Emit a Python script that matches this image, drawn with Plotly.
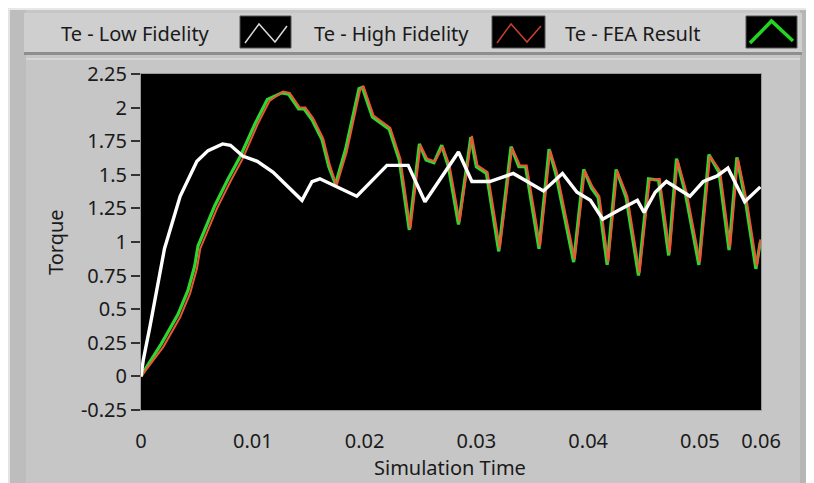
import plotly.graph_objects as go

# ---------------- data ----------------
series_names = ["Te - Low Fidelity", "Te - High Fidelity", "Te - FEA Result"]

t_low = [0, 0.0002, 0.0008, 0.0015, 0.0021, 0.0035, 0.0050, 0.0060, 0.0073, 0.0080,
         0.0091, 0.0104, 0.0118, 0.0144, 0.0153, 0.0160, 0.0175, 0.0193, 0.0220, 0.0239,
         0.0254, 0.0284, 0.0296, 0.0312, 0.0333, 0.0360, 0.0377, 0.0390, 0.0402, 0.0413,
         0.0426, 0.0444, 0.0450, 0.0460, 0.0470, 0.0491, 0.0503, 0.0515, 0.0525, 0.0540, 0.0554]
te_low = [0, 0.12, 0.37, 0.70, 0.95, 1.34, 1.60, 1.68, 1.73, 1.72,
          1.64, 1.60, 1.52, 1.31, 1.45, 1.47, 1.41, 1.34, 1.57, 1.57,
          1.30, 1.67, 1.45, 1.45, 1.51, 1.38, 1.51, 1.37, 1.31, 1.17,
          1.23, 1.31, 1.22, 1.37, 1.45, 1.34, 1.45, 1.49, 1.55, 1.30, 1.41]

t_high = [0, 0.0002, 0.0020, 0.0035, 0.0044, 0.0050, 0.0053, 0.0068, 0.0080, 0.0091,
          0.0104, 0.0115, 0.0127, 0.0133, 0.0142, 0.0147, 0.0154, 0.0163, 0.0169, 0.0175,
          0.0184, 0.0196, 0.0199, 0.0208, 0.0223, 0.0232, 0.0241, 0.0250, 0.0256, 0.0263,
          0.0270, 0.0276, 0.0285, 0.0296, 0.0301, 0.0310, 0.0321, 0.0332, 0.0339, 0.0345,
          0.0357, 0.0366, 0.0372, 0.0388, 0.0397, 0.0404, 0.0410, 0.0418, 0.0426, 0.0435,
          0.0446, 0.0455, 0.0464, 0.0473, 0.0480, 0.0488, 0.0500, 0.0509, 0.0518, 0.0527,
          0.0534, 0.0542, 0.0551, 0.0554]
te_high = [0, 0.02, 0.22, 0.44, 0.62, 0.80, 0.95, 1.25, 1.45, 1.62,
           1.87, 2.05, 2.12, 2.11, 2.00, 2.00, 1.92, 1.77, 1.57, 1.42,
           1.67, 2.13, 2.16, 1.94, 1.85, 1.62, 1.10, 1.72, 1.62, 1.60,
           1.71, 1.57, 1.15, 1.79, 1.57, 1.52, 0.95, 1.70, 1.57, 1.57,
           0.97, 1.68, 1.52, 0.87, 1.53, 1.41, 1.34, 0.85, 1.53, 1.34,
           0.77, 1.46, 1.47, 0.92, 1.61, 1.37, 0.85, 1.64, 1.53, 0.96,
           1.62, 1.30, 0.82, 1.02]

t_fea = [0, 0.0002, 0.0018, 0.0033, 0.0042, 0.0048, 0.0051, 0.0066, 0.0078, 0.0089,
         0.0102, 0.0113, 0.0126, 0.0132, 0.0141, 0.0146, 0.0153, 0.0162, 0.0168, 0.0174,
         0.0183, 0.0195, 0.0198, 0.0207, 0.0222, 0.0231, 0.0240, 0.0249, 0.0255, 0.0262,
         0.0269, 0.0275, 0.0284, 0.0295, 0.0300, 0.0309, 0.0320, 0.0331, 0.0338, 0.0344,
         0.0356, 0.0365, 0.0371, 0.0387, 0.0396, 0.0403, 0.0409, 0.0417, 0.0425, 0.0434,
         0.0445, 0.0454, 0.0463, 0.0472, 0.0479, 0.0487, 0.0499, 0.0508, 0.0517, 0.0526,
         0.0533, 0.0541, 0.0550, 0.0554]
te_fea = [0, 0.03, 0.24, 0.46, 0.64, 0.82, 0.97, 1.27, 1.47, 1.64,
          1.88, 2.06, 2.11, 2.10, 1.99, 1.99, 1.91, 1.76, 1.56, 1.43,
          1.69, 2.14, 2.15, 1.93, 1.84, 1.61, 1.09, 1.73, 1.61, 1.59,
          1.72, 1.56, 1.13, 1.78, 1.56, 1.51, 0.93, 1.71, 1.56, 1.56,
          0.95, 1.69, 1.51, 0.85, 1.54, 1.40, 1.33, 0.83, 1.54, 1.33,
          0.75, 1.47, 1.46, 0.90, 1.62, 1.36, 0.83, 1.65, 1.52, 0.94,
          1.63, 1.29, 0.80, 1.00]

x_tickvals = [0, 0.01, 0.02, 0.03, 0.04, 0.05, 0.05546]
x_ticktext = ["0", "0.01", "0.02", "0.03", "0.04", "0.05", "0.06"]
y_tickvals = [-0.25, 0, 0.25, 0.5, 0.75, 1, 1.25, 1.5, 1.75, 2, 2.25]
y_ticktext = ["-0.25", "0", "0.25", "0.5", "0.75", "1", "1.25", "1.5", "1.75", "2", "2.25"]

x_title = "Simulation Time"
y_title = "Torque"

# ---------------- layout geometry ----------------
# reference pixel coords; the page body has an 8px margin, so the figure is offset by O
O = 8
W, H = 814, 483
FW, FH = W - O, H - O
L, R, T, B = 141, 761, 74, 410
FONT = "Noto Sans"
FS = 20
TXT = "#1a1a1a"


def px(x):
    return (x - L) / (R - L)


def py(y):
    return (B - y) / (B - T)


fig = go.Figure()

fig.add_trace(go.Scatter(x=t_fea, y=te_fea, mode="lines", name=series_names[2],
                         line=dict(color="#2fd62f", width=3.2), showlegend=False))
fig.add_trace(go.Scatter(x=t_high, y=te_high, mode="lines", name=series_names[1],
                         line=dict(color="#ee5438", width=2), showlegend=False))
fig.add_trace(go.Scatter(x=t_low, y=te_low, mode="lines", name=series_names[0],
                         line=dict(color="#ffffff", width=3.4), showlegend=False))

shapes = []


def rect(x0, y0, x1, y1, color):
    shapes.append(dict(type="rect", xref="paper", yref="paper",
                       x0=px(x0), x1=px(x1), y0=py(y1), y1=py(y0),
                       fillcolor=color, line=dict(width=0), layer="below"))


# frame decoration (figure starts at reference pixel 8,8)
rect(8, 8, 10, H, "#e4e4e4")
rect(8, 8, W, 10, "#e8e8e8")
rect(10, 10, 26, H, "#bdbdbd")
rect(800, 10, W, H, "#b6b6b6")
rect(24, 13, 802, 53, "#cfcfcf")
rect(24, 52, 802, 55, "#8e8e8e")
rect(26, 58, 800, 60, "#d6d6d6")

annotations = []
legend_text_x = [135, 391, 632]
swatches = [(240, 291), (492, 545), (746, 797)]
sw_colors = ["#d8d8d8", "#c8402e", "#22d622"]
sw_widths = [1.5, 1.5, 3.5]
for i, name in enumerate(series_names):
    annotations.append(dict(text=name, x=px(legend_text_x[i]), y=py(33), xref="paper", yref="paper",
                            showarrow=False, xanchor="center", yanchor="middle",
                            font=dict(family=FONT, size=FS, color=TXT)))
    x0, x1 = swatches[i]
    shapes.append(dict(type="rect", xref="paper", yref="paper",
                       x0=px(x0), x1=px(x1), y0=py(48), y1=py(16),
                       fillcolor="#000000", line=dict(color="#555555", width=1)))
    if i < 2:
        pts = [(x0 + 5, 43), (x0 + 19, 24), (x0 + 35, 42), (x1 - 4, 26)]
    else:
        pts = [(x0 + 4, 43), (x0 + (x1 - x0) / 2, 21), (x1 - 4, 41)]
    path = "M " + " L ".join(f"{px(a):.5f},{py(b):.5f}" for a, b in pts)
    shapes.append(dict(type="path", xref="paper", yref="paper", path=path,
                       line=dict(color=sw_colors[i], width=sw_widths[i])))

annotations.append(dict(text=y_title, x=px(55), y=py(242), xref="paper", yref="paper",
                        showarrow=False, textangle=-90, xanchor="center", yanchor="middle",
                        font=dict(family=FONT, size=FS, color=TXT)))
annotations.append(dict(text=x_title, x=px(450), y=py(467), xref="paper", yref="paper",
                        showarrow=False, xanchor="center", yanchor="middle",
                        font=dict(family=FONT, size=FS, color=TXT)))

fig.update_layout(
    width=FW, height=FH,
    margin=dict(l=L - O, r=W - R, t=T - O, b=H - B, pad=0),
    paper_bgcolor="#c6c6c6",
    plot_bgcolor="#000000",
    showlegend=False,
    shapes=shapes,
    annotations=annotations,
    xaxis=dict(range=[0, 0.05546], tickvals=x_tickvals, ticktext=x_ticktext,
               showgrid=False, zeroline=False, ticks="outside", ticklen=13,
               tickcolor="rgba(0,0,0,0)", showline=True, linecolor="#9a9a9a", linewidth=1,
               mirror=True, tickfont=dict(family=FONT, size=FS, color=TXT), fixedrange=True),
    yaxis=dict(range=[-0.25, 2.25], tickvals=y_tickvals, ticktext=y_ticktext,
               showgrid=False, zeroline=False, ticks="outside", ticklen=9, tickwidth=2,
               tickcolor="#333333", showline=True, linecolor="#9a9a9a", linewidth=1, mirror=True,
               tickfont=dict(family=FONT, size=FS, color=TXT), fixedrange=True),
)

fig.write_html("out.html", config={"displayModeBar": False})
